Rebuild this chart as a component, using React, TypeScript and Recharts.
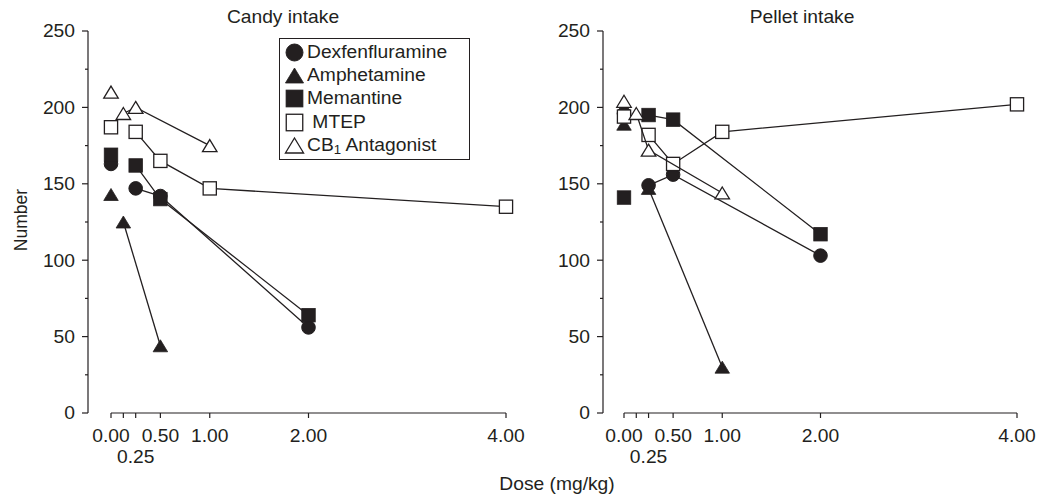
import React from 'react';
import { ScatterChart, Scatter, XAxis, YAxis, ReferenceLine, Legend } from 'recharts';

const FONT = '"Liberation Sans", Arial, Helvetica, sans-serif';
const INK = '#231f20';
const STRETCH = 1.1;

const doseTicks = [0, 0.125, 0.25, 0.5, 1, 2, 4];
const numberTicks = [0, 25, 50, 75, 100, 125, 150, 175, 200, 225, 250];
const drugNames = ['Dexfenfluramine', 'Amphetamine', 'Memantine', ' MTEP', 'CB1 Antagonist'];

// candy intake, vehicle (dose 0) points are not joined to the dose-response lines
const candyVehicle = [163, 143, 169, 187, 210];
const candyDexfen = [{ x: 0.25, y: 147 }, { x: 0.5, y: 142 }, { x: 2, y: 56 }];
const candyAmph = [{ x: 0.125, y: 125 }, { x: 0.5, y: 44 }];
const candyMemantine = [{ x: 0.25, y: 162 }, { x: 0.5, y: 140 }, { x: 2, y: 64 }];
const candyMtep = [{ x: 0.25, y: 184 }, { x: 0.5, y: 165 }, { x: 1, y: 147 }, { x: 4, y: 135 }];
const candyCb1 = [{ x: 0.125, y: 196 }, { x: 0.25, y: 200 }, { x: 1, y: 175 }];

// pellet intake
const pelletVehicle = [196, 189, 141, 194, 204];
const pelletDexfen = [{ x: 0.25, y: 149 }, { x: 0.5, y: 156 }, { x: 2, y: 103 }];
const pelletAmph = [{ x: 0.25, y: 147 }, { x: 1, y: 30 }];
const pelletMemantine = [{ x: 0.25, y: 195 }, { x: 0.5, y: 192 }, { x: 2, y: 117 }];
const pelletMtep = [{ x: 0.25, y: 182 }, { x: 0.5, y: 163 }, { x: 1, y: 184 }, { x: 4, y: 202 }];
const pelletCb1 = [{ x: 0.125, y: 196 }, { x: 0.25, y: 172 }, { x: 1, y: 144 }];

const markerKinds = [
  { shape: 'circle', filled: true },
  { shape: 'triangle', filled: true },
  { shape: 'square', filled: true },
  { shape: 'square', filled: false },
  { shape: 'triangle', filled: false },
];

function Marker({ cx, cy, kind, scale = 1 }: any) {
  const { shape, filled } = markerKinds[kind];
  const fill = filled ? INK : '#fff';
  if (shape === 'circle') {
    return <circle cx={cx} cy={cy} r={6.8 * scale} fill={fill} stroke={INK} strokeWidth={1} />;
  }
  if (shape === 'square') {
    const s = (filled ? 13.5 : 13.2) * scale;
    return <rect x={cx - s / 2} y={cy - s / 2} width={s} height={s} fill={fill} stroke={INK} strokeWidth={filled ? 0.8 : 1.3} />;
  }
  const w = 14.5 * scale;
  const h = 12 * scale;
  return (
    <path
      d={`M${cx},${cy - h / 2}L${cx + w / 2},${cy + h / 2}L${cx - w / 2},${cy + h / 2}Z`}
      fill={fill}
      stroke={INK}
      strokeWidth={filled ? 0.8 : 1.3}
    />
  );
}

// the figure's type is a little wider than Arial, so stretch it sideways
const SText = ({ x, y, anchor = 'middle', size = 17.5, dy, children }: any) => (
  <text
    transform={`translate(${x},${y}) scale(${STRETCH},1)`}
    dy={dy}
    textAnchor={anchor}
    fontSize={size}
    fill={INK}
    fontFamily={FONT}
  >
    {children}
  </text>
);

const DoseTick = ({ x, y, payload }: any) => {
  const v = payload.value;
  if (v === 0.125) return <g />;
  return <SText x={x} y={y + (v === 0.25 ? 45 : 24)}>{v.toFixed(2)}</SText>;
};

const NumberTick = ({ x, y, payload }: any) => {
  const major = payload.value % 50 === 0;
  return (
    <g>
      <line x1={x - (major ? 6 : 3)} x2={x} y1={y} y2={y} stroke={INK} strokeWidth={1.2} />
      {major && (
        <SText x={x - 13} y={y} dy="0.36em" anchor="end">
          {payload.value}
        </SText>
      )}
    </g>
  );
};

const LegendBox = () => (
  <div
    style={{
      width: 191,
      height: 122,
      boxSizing: 'border-box',
      border: `1.3px solid ${INK}`,
      background: '#fff',
      position: 'relative',
      fontFamily: FONT,
      fontSize: 17.5,
      color: INK,
    }}
  >
    {drugNames.map((name, i) => (
      <div key={name} style={{ position: 'absolute', left: 0, top: 2 + i * 23.2, height: 23, display: 'flex', alignItems: 'center' }}>
        <svg width={27} height={23} style={{ flex: 'none' }}>
          <Marker cx={14.5} cy={11.5} kind={i} scale={1.25} />
        </svg>
        <span style={{ whiteSpace: 'pre', display: 'inline-block', transform: `scaleX(${STRETCH})`, transformOrigin: 'left center' }}>
          {name.startsWith('CB1') ? (
            <>
              CB<sub style={{ fontSize: 12, verticalAlign: -3, lineHeight: 0 }}>1</sub>
              {name.slice(3)}
            </>
          ) : (
            name
          )}
        </span>
      </div>
    ))}
  </div>
);

function Panel({ width, yWidth, marginRight, padLeft, vehicle, series, showLegend }: any) {
  return (
    <ScatterChart width={width} height={498} margin={{ top: 31, right: marginRight, bottom: 55, left: 0 }}>
      <XAxis
        xAxisId="dose"
        dataKey="x"
        type="number"
        domain={[0, 4]}
        ticks={doseTicks}
        interval={0}
        padding={{ left: padLeft, right: 8 }}
        axisLine={false}
        tickLine={{ stroke: INK, strokeWidth: 1.2 }}
        tickSize={5}
        tickMargin={0}
        tick={<DoseTick />}
        height={30}
      />
      <YAxis
        dataKey="y"
        type="number"
        domain={[0, 250]}
        ticks={numberTicks}
        interval={0}
        width={yWidth}
        axisLine={{ stroke: INK, strokeWidth: 1.2 }}
        tickLine={false}
        tickSize={0}
        tickMargin={0}
        tick={<NumberTick />}
      />
      <ReferenceLine
        xAxisId="dose"
        segment={[{ x: 0, y: 0 }, { x: 4, y: 0 }]}
        stroke={INK}
        strokeWidth={1.2}
        ifOverflow="visible"
      />
      {series.map((pts: any, k: number) => (
        <React.Fragment key={k}>
          <Scatter
            xAxisId="dose"
            data={[{ x: 0, y: vehicle[k] }]}
            shape={(p: any) => <Marker cx={p.cx} cy={p.cy} kind={k} />}
            isAnimationActive={false}
          />
          <Scatter
            xAxisId="dose"
            data={pts}
            line={{ stroke: INK, strokeWidth: 1.3 }}
            lineType="joint"
            shape={(p: any) => <Marker cx={p.cx} cy={p.cy} kind={k} />}
            isAnimationActive={false}
          />
        </React.Fragment>
      ))}
      {showLegend && (
        <Legend
          layout="horizontal"
          verticalAlign="middle"
          align="center"
          wrapperStyle={{ left: 279, top: 38, width: 191, height: 122 }}
          content={() => <LegendBox />}
        />
      )}
    </ScatterChart>
  );
}

export default function App() {
  return (
    <div style={{ position: 'absolute', left: 0, top: 0, width: 1049, height: 498, background: '#fff' }}>
      <div style={{ position: 'absolute', left: 0, top: 0 }}>
        <Panel
          width={530}
          yWidth={88}
          marginRight={16}
          padLeft={23}
          vehicle={candyVehicle}
          series={[candyDexfen, candyAmph, candyMemantine, candyMtep, candyCb1]}
          showLegend
        />
      </div>
      <div style={{ position: 'absolute', left: 530, top: 0 }}>
        <Panel
          width={519}
          yWidth={73}
          marginRight={24}
          padLeft={21}
          vehicle={pelletVehicle}
          series={[pelletDexfen, pelletAmph, pelletMemantine, pelletMtep, pelletCb1]}
        />
      </div>
      <svg width={1049} height={498} style={{ position: 'absolute', left: 0, top: 0, pointerEvents: 'none' }}>
        <SText x={283} y={23}>Candy intake</SText>
        <SText x={802} y={23}>Pellet intake</SText>
        <text transform="translate(27,220) rotate(-90)" textAnchor="middle" fontSize={17.5} fill={INK} fontFamily={FONT}>
          Number
        </text>
        <SText x={557} y={490}>Dose (mg/kg)</SText>
      </svg>
    </div>
  );
}
